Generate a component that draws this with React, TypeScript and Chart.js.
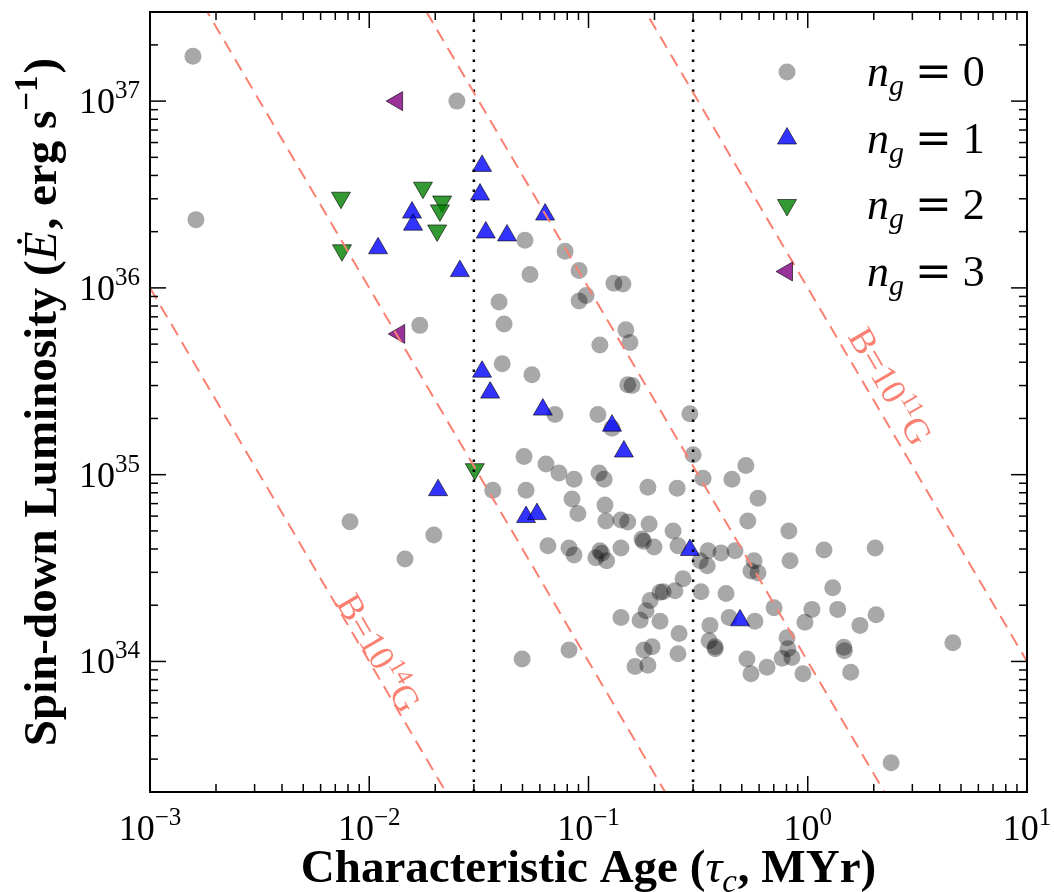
import React, { useEffect, useRef } from 'react';
import { Chart, registerables } from 'chart.js';

Chart.register(...registerables);

// ---------------- data ----------------
const ng0Age = [
  0.00157, 0.00162, 0.0251, 0.0170, 0.00817, 0.01456, 0.0197, 0.0391, 0.0412, 0.0404,
  0.0552, 0.0703, 0.1104, 0.128, 0.0906, 0.0975, 0.1306, 0.1435, 0.148, 0.1545,
  0.1127, 0.151, 0.158, 0.290, 0.300, 0.0508, 0.064, 0.0733, 0.0859, 0.1117,
  0.1178, 0.1866, 0.2537, 0.333, 0.451, 0.522, 0.593, 0.533, 0.820, 1.186,
  2.03, 0.830, 0.0366, 0.0519, 0.0841, 0.0895, 0.1189, 0.120, 0.1406, 0.151,
  0.189, 0.243, 0.1754, 0.178, 0.199, 0.1406, 0.256, 0.0653, 0.0815, 0.0859,
  0.1127, 0.108, 0.115, 0.121, 0.351, 0.402, 0.466, 0.323, 0.348, 0.569,
  0.551, 0.593, 0.270, 0.248, 0.219, 0.212, 0.191, 0.183, 0.1406, 0.172,
  0.212, 0.259, 0.195, 0.179, 0.1866, 0.163, 0.256, 0.0815, 0.0498, 0.326,
  0.424, 0.358, 0.438, 0.574, 0.355, 0.378, 0.378, 0.528, 0.551, 0.652,
  0.702, 0.804, 0.812, 0.764, 0.847, 0.951, 0.971, 1.045, 1.30, 1.37,
  1.46, 1.47, 1.57, 1.73, 2.05, 4.59, 2.40, 0.0513, 0.0782, 0.0541,
  0.0906,
];
const ng0Lum = [
  1.74e37, 2.32e36, 1.0e37, 6.3e35, 5.6e34, 3.54e34, 4.75e34, 8.4e35, 6.4e35, 3.92e35,
  3.43e35, 2.10e35, 2.10e35, 1.77e35, 8.5e35, 9.1e35, 1.06e36, 1.05e36, 5.96e35, 5.1e35,
  4.95e35, 3.03e35, 3.0e35, 2.12e35, 1.28e35, 1.25e35, 1.14e35, 1.02e35, 9.45e34, 1.02e35,
  9.45e34, 8.57e34, 8.47e34, 9.57e34, 9.46e34, 1.12e35, 7.48e34, 5.65e34, 4.99e34, 3.95e34,
  4.05e34, 3.46e34, 8.26e34, 8.26e34, 7.4e34, 6.2e34, 6.87e34, 5.65e34, 5.72e34, 5.58e34,
  5.44e34, 4.99e34, 4.53e34, 4.4e34, 4.1e34, 4.05e34, 4.16e34, 4.16e34, 4.05e34, 3.72e34,
  3.91e34, 3.59e34, 3.8e34, 3.46e34, 3.91e34, 3.81e34, 3.91e34, 3.46e34, 3.25e34, 3.46e34,
  3.05e34, 2.98e34, 2.77e34, 2.39e34, 2.36e34, 2.35e34, 2.12e34, 1.87e34, 1.72e34, 1.66e34,
  1.64e34, 1.41e34, 1.20e34, 1.15e34, 9.53e33, 9.4e33, 1.10e34, 1.15e34, 1.03e34, 2.36e34,
  2.31e34, 1.56e34, 1.72e34, 1.64e34, 1.29e34, 1.20e34, 1.17e34, 1.03e34, 8.6e33, 9.3e33,
  1.94e34, 1.34e34, 1.17e34, 1.04e34, 1.05e34, 8.6e33, 1.62e34, 1.90e34, 2.48e34, 1.90e34,
  1.19e34, 1.14e34, 8.75e33, 1.56e34, 1.78e34, 1.26e34, 2.87e33, 1.80e36, 1.57e36, 1.18e36,
  1.24e36,
];

const ng1Age = [
  0.0327, 0.0320, 0.01567, 0.01584, 0.01097, 0.0340, 0.0425, 0.0634, 0.0259, 0.0327,
  0.0356, 0.0619, 0.128, 0.145, 0.0206, 0.0519, 0.0582, 0.290, 0.491,
];
const ng1Lum = [
  4.5e36, 3.16e36, 2.53e36, 2.18e36, 1.63e36, 1.98e36, 1.91e36, 2.47e36, 1.23e36, 3.56e35,
  2.75e35, 2.23e35, 1.83e35, 1.33e35, 8.26e34, 5.93e34, 6.15e34, 3.95e34, 1.66e34,
];

const ng2Age = [0.00743, 0.00751, 0.01758, 0.0215, 0.0210, 0.0204, 0.0303];
const ng2Lum = [3.04e36, 1.59e36, 3.44e36, 2.9e36, 2.6e36, 2.03e36, 1.07e35];

const ng3Age = [0.0134, 0.0137];
const ng3Lum = [1.0e37, 5.67e35];

const legendValues = ['0', '1', '2', '3'];

// axes
const ageMin = 1e-3;
const ageMax = 1e1;
const lumMin = 2e33;
const lumMax = 3e37;
const xDecades = [1e-3, 1e-2, 1e-1, 1e0, 1e1];
const xDecadeExps = ['\u22123', '\u22122', '\u22121', '0', '1'];
const yDecades = [1e33, 1e34, 1e35, 1e36, 1e37];
const yDecadeExps = ['33', '34', '35', '36', '37'];
const minorMultipliers = [2, 3, 4, 5, 6, 7, 8, 9];

// reference lines
const refAges = [0.03, 0.3];
const bFieldExps = ['14', '13', '12', '11'];
const bLineLumAtAgeMin = [1e36, 1e38, 1e40, 1e42];
const bLineLumAtAgeMax = [1e28, 1e30, 1e32, 1e34];
const bLabelLineIndex = [0, 3];
const bLabelAges = [0.00987, 1.96];

// ---------------- styling ----------------
const SERIF = '"Liberation Serif", "DejaVu Serif", serif';
const WIDE_SERIF = '"DejaVu Serif", "Liberation Serif", serif';
const SALMON = '#fa8072';
const GREY_FILL = 'rgba(0,0,0,0.34)';
const BLUE_FILL = 'rgba(0,0,255,0.8)';
const GREEN_FILL = 'rgba(0,128,0,0.8)';
const PURPLE_FILL = 'rgba(128,0,128,0.8)';
const EDGE = 'rgba(0,0,0,0.6)';
const labelLift = [10, 19];

type Run = { text: string; font: string; dy?: number; gap?: number };

function runsWidth(ctx: CanvasRenderingContext2D, runs: Run[]) {
  let w = 0;
  for (const r of runs) {
    ctx.font = r.font;
    w += ctx.measureText(r.text).width + (r.gap || 0);
  }
  return w;
}

function drawRuns(
  ctx: CanvasRenderingContext2D,
  runs: Run[],
  x: number,
  y: number,
  align: 'left' | 'center' | 'right'
) {
  const w = runsWidth(ctx, runs);
  let cx = align === 'left' ? x : align === 'center' ? x - w / 2 : x - w;
  ctx.textAlign = 'left';
  for (const r of runs) {
    ctx.font = r.font;
    ctx.fillText(r.text, cx, y + (r.dy || 0));
    cx += ctx.measureText(r.text).width + (r.gap || 0);
  }
}

function markerPath(ctx: CanvasRenderingContext2D, style: string, x: number, y: number, r: number, rotDeg: number) {
  ctx.beginPath();
  if (style === 'circle') {
    ctx.arc(x, y, r, 0, Math.PI * 2);
  } else {
    let rad = (rotDeg * Math.PI) / 180;
    for (let k = 0; k < 3; k++) {
      const px = x + Math.sin(rad) * r;
      const py = y - Math.cos(rad) * r;
      if (k === 0) ctx.moveTo(px, py);
      else ctx.lineTo(px, py);
      rad += (2 * Math.PI) / 3;
    }
    ctx.closePath();
  }
}

const legendMarkers = [
  { style: 'circle', r: 8.5, rot: 0, fill: GREY_FILL, edge: '' },
  { style: 'triangle', r: 11, rot: 0, fill: BLUE_FILL, edge: EDGE },
  { style: 'triangle', r: 11, rot: 180, fill: GREEN_FILL, edge: EDGE },
  { style: 'triangle', r: 11, rot: -90, fill: PURPLE_FILL, edge: EDGE },
];

const decorPlugin = {
  id: 'decor',
  afterDatasetsDraw(chart: any) {
    const { ctx, chartArea: a, scales } = chart;
    const xs = scales.x;
    const ys = scales.y;
    ctx.save();

    // B-field labels along the dashed lines
    ctx.fillStyle = SALMON;
    ctx.textBaseline = 'middle';
    bLabelLineIndex.forEach((li, k) => {
      const x0 = xs.getPixelForValue(ageMin);
      const y0 = ys.getPixelForValue(bLineLumAtAgeMin[li]);
      const x1 = xs.getPixelForValue(ageMax);
      const y1 = ys.getPixelForValue(bLineLumAtAgeMax[li]);
      const ang = Math.atan2(y1 - y0, x1 - x0);
      const px = xs.getPixelForValue(bLabelAges[k]);
      const t = (px - x0) / (x1 - x0);
      const py = y0 + t * (y1 - y0);
      ctx.save();
      ctx.translate(px, py);
      ctx.rotate(ang);
      drawRuns(
        ctx,
        [
          { text: 'B=10', font: `36px ${SERIF}` },
          { text: bFieldExps[li], font: `24px ${SERIF}`, dy: -11 },
          { text: 'G', font: `36px ${SERIF}` },
        ],
        0,
        -labelLift[k],
        'center'
      );
      ctx.restore();
    });

    // frame
    ctx.strokeStyle = '#000';
    ctx.lineWidth = 2;
    ctx.strokeRect(a.left, a.top, a.right - a.left, a.bottom - a.top);

    // ticks (inward, all four sides)
    ctx.lineWidth = 1.5;
    const tick = (x0: number, y0: number, x1: number, y1: number) => {
      ctx.beginPath();
      ctx.moveTo(x0, y0);
      ctx.lineTo(x1, y1);
      ctx.stroke();
    };
    const majorLen = 16;
    const minorLen = 8;
    xDecades.forEach((d) => {
      const vals = [{ v: d, len: majorLen }, ...minorMultipliers.map((m) => ({ v: d * m, len: minorLen }))];
      vals.forEach(({ v, len }) => {
        if (v < ageMin * 0.999 || v > ageMax * 1.001) return;
        const px = xs.getPixelForValue(v);
        tick(px, a.bottom, px, a.bottom - len);
        tick(px, a.top, px, a.top + len);
      });
    });
    yDecades.forEach((d) => {
      const vals = [{ v: d, len: majorLen }, ...minorMultipliers.map((m) => ({ v: d * m, len: minorLen }))];
      vals.forEach(({ v, len }) => {
        if (v < lumMin * 0.999 || v > lumMax * 1.001) return;
        const py = ys.getPixelForValue(v);
        tick(a.left, py, a.left + len, py);
        tick(a.right, py, a.right - len, py);
      });
    });

    // tick labels
    ctx.fillStyle = '#000';
    ctx.textBaseline = 'alphabetic';
    xDecades.forEach((d, i) => {
      const px = xs.getPixelForValue(d);
      drawRuns(
        ctx,
        [
          { text: '10', font: `36px ${SERIF}` },
          { text: xDecadeExps[i], font: `25px ${SERIF}`, dy: -15 },
        ],
        px,
        a.bottom + 48,
        'center'
      );
    });
    yDecades.forEach((d, i) => {
      if (d < lumMin || d > lumMax) return;
      const py = ys.getPixelForValue(d);
      drawRuns(
        ctx,
        [
          { text: '10', font: `36px ${SERIF}` },
          { text: yDecadeExps[i], font: `25px ${SERIF}`, dy: -15 },
        ],
        a.left - 10,
        py + 12,
        'right'
      );
    });

    // axis titles
    const xTitle = (S: number): Run[] => [
      { text: 'Characteristic Age (', font: `bold ${S}px ${SERIF}` },
      { text: '\u03c4', font: `italic ${S}px ${SERIF}` },
      { text: 'c', font: `italic ${Math.round(S * 0.7)}px ${SERIF}`, dy: S * 0.22, gap: 1 },
      { text: ', MYr)', font: `bold ${S}px ${SERIF}` },
    ];
    const w40 = runsWidth(ctx, xTitle(40));
    const S = Math.round((40 * 577) / w40);
    drawRuns(ctx, xTitle(S), (a.left + a.right) / 2, 882, 'center');

    const yTitle: Run[] = [
      { text: 'Spin-down Luminosity (', font: `bold ${S}px ${SERIF}` },
      { text: '\u0116', font: `italic ${S}px ${SERIF}`, gap: 2 },
      { text: ', erg s', font: `bold ${S}px ${SERIF}` },
      { text: '\u22121', font: `bold ${Math.round(S * 0.7)}px ${SERIF}`, dy: -S * 0.4, gap: 2 },
      { text: ')', font: `bold ${S}px ${SERIF}` },
    ];
    ctx.save();
    ctx.translate(44, (a.top + a.bottom) / 2);
    ctx.rotate(-Math.PI / 2);
    drawRuns(ctx, yTitle, 0, 12, 'center');
    ctx.restore();

    // legend
    const lx = a.right - 240;
    const tx = a.right - 160;
    legendValues.forEach((val, i) => {
      const ly = a.top + 60 + i * 66.5;
      const m = legendMarkers[i];
      markerPath(ctx, m.style, lx, ly, m.r, m.rot);
      ctx.fillStyle = m.fill;
      ctx.fill();
      if (m.edge) {
        ctx.strokeStyle = m.edge;
        ctx.lineWidth = 1;
        ctx.stroke();
      }
      ctx.fillStyle = '#000';
      drawRuns(
        ctx,
        [
          { text: 'n', font: `italic 44px ${SERIF}` },
          { text: 'g', font: `italic 30px ${SERIF}`, dy: 9, gap: 11 },
          { text: '=', font: `44px ${WIDE_SERIF}`, gap: 11 },
          { text: val, font: `44px ${SERIF}` },
        ],
        tx,
        ly + 14,
        'left'
      );
    });

    ctx.restore();
  },
};

const toPoints = (xs: number[], ys: number[]) => xs.map((x, i) => ({ x, y: ys[i] }));

export default function App() {
  const ref = useRef<HTMLCanvasElement>(null);
  useEffect(() => {
    document.body.style.margin = '0';
    document.body.style.overflow = 'hidden';
    const canvas = ref.current!;

    const datasets: any[] = [
      {
        label: 'n_g = 0',
        data: toPoints(ng0Age, ng0Lum),
        pointStyle: 'circle',
        pointRadius: 8.5,
        backgroundColor: GREY_FILL,
        borderWidth: 0,
        order: 4,
      },
      {
        label: 'n_g = 1',
        data: toPoints(ng1Age, ng1Lum),
        pointStyle: 'triangle',
        pointRadius: 11,
        backgroundColor: BLUE_FILL,
        borderColor: EDGE,
        borderWidth: 1,
        order: 3,
      },
      {
        label: 'n_g = 2',
        data: toPoints(ng2Age, ng2Lum),
        pointStyle: 'triangle',
        pointRotation: 180,
        pointRadius: 11,
        backgroundColor: GREEN_FILL,
        borderColor: EDGE,
        borderWidth: 1,
        order: 2,
      },
      {
        label: 'n_g = 3',
        data: toPoints(ng3Age, ng3Lum),
        pointStyle: 'triangle',
        pointRotation: -90,
        pointRadius: 11,
        backgroundColor: PURPLE_FILL,
        borderColor: EDGE,
        borderWidth: 1,
        order: 1,
      },
      ...bLineLumAtAgeMin.map((s, i) => ({
        label: `B=10^${bFieldExps[i]} G`,
        data: [
          { x: ageMin, y: s },
          { x: ageMax, y: bLineLumAtAgeMax[i] },
        ],
        showLine: true,
        pointRadius: 0,
        borderColor: SALMON,
        borderWidth: 2,
        borderDash: [13, 8],
        fill: false,
        order: 0,
      })),
      ...refAges.map((age) => ({
        label: `tau=${age}`,
        data: [
          { x: age, y: lumMin },
          { x: age, y: lumMax },
        ],
        showLine: true,
        pointRadius: 0,
        borderColor: '#000',
        borderWidth: 2.5,
        borderDash: [2.5, 7.5],
        fill: false,
        order: 0,
      })),
    ];

    const chart = new Chart(canvas, {
      type: 'scatter',
      data: { datasets },
      options: {
        responsive: false,
        animation: false,
        devicePixelRatio: 1,
        events: [],
        layout: { padding: { left: 150, right: 27, top: 8, bottom: 100 } },
        scales: {
          x: { type: 'logarithmic', min: ageMin, max: ageMax, display: false },
          y: { type: 'logarithmic', min: lumMin, max: lumMax, display: false },
        },
        plugins: {
          legend: { display: false },
          tooltip: { enabled: false },
          title: { display: false },
        },
      } as any,
      plugins: [decorPlugin],
    });
    return () => chart.destroy();
  }, []);

  return (
    <div style={{ width: 1054, height: 892, background: '#fff' }}>
      <canvas ref={ref} width={1054} height={892} style={{ display: 'block', width: 1054, height: 892 }} />
    </div>
  );
}
